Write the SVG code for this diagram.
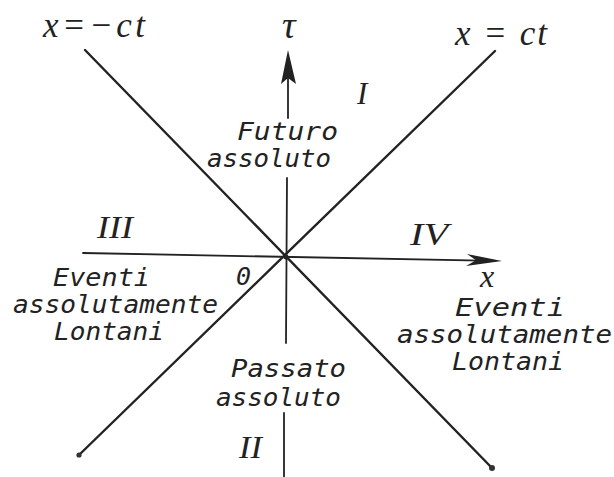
<svg xmlns="http://www.w3.org/2000/svg" width="614" height="477" viewBox="0 0 614 477">
<style>
.ln{stroke:#222;fill:none;stroke-linecap:round}
.diag{stroke-width:2.4}
.ax{stroke-width:1.8}
.lbl{font-family:"DejaVu Sans Mono","Liberation Mono",monospace;font-style:italic;font-size:25px;fill:#222}
.math{font-family:"Liberation Serif","DejaVu Serif",serif;font-style:italic;font-size:35px;fill:#222}
.rom{font-family:"Liberation Serif","DejaVu Serif",serif;font-style:italic;font-size:31px;fill:#222}
</style>
<rect width="614" height="477" fill="#fff"/>
<g id="connectors">
  <line class="ln diag" x1="85" y1="50" x2="492" y2="468"/>
  <line class="ln diag" x1="79" y1="455" x2="495" y2="51"/>
  <circle cx="79" cy="455" r="2.6" fill="#333"/>
  <circle cx="492" cy="468" r="3" fill="#333"/>
  <line class="ln ax" x1="83" y1="253" x2="495" y2="260.8"/>
  <polygon points="502,261 467,254 476,260.3 466,266" fill="#222"/>
  <line class="ln ax" x1="288" y1="58" x2="288" y2="118"/>
  <polygon points="288,50 281,84 288,78 296,84" fill="#222"/>
  <line class="ln ax" x1="287" y1="178" x2="286" y2="343"/>
  <line class="ln ax" x1="284" y1="413" x2="284" y2="477"/>
  <circle cx="286" cy="257" r="2.5" fill="#222"/>
</g>
<g id="label-xmct"><text class="math" x="43" y="37" textLength="102" lengthAdjust="spacing">x=−ct</text></g>
<g id="label-xct"><text class="math" x="455" y="45" textLength="92" lengthAdjust="spacing">x = ct</text></g>
<g id="label-tau"><text class="math" x="282" y="38" style="font-size:38px">τ</text></g>
<g id="label-x"><text class="math" x="480" y="287" style="font-size:32px">x</text></g>
<g id="label-origin"><text class="lbl" x="236" y="285">0</text></g>
<g id="region-I">
  <text class="rom" x="357" y="104">I</text>
  <text class="lbl" x="237" y="140" textLength="101" lengthAdjust="spacingAndGlyphs">Futuro</text>
  <text class="lbl" x="207" y="167" textLength="124" lengthAdjust="spacingAndGlyphs">assoluto</text>
</g>
<g id="region-II">
  <text class="lbl" x="231" y="377" textLength="115" lengthAdjust="spacingAndGlyphs">Passato</text>
  <text class="lbl" x="216" y="406" textLength="125" lengthAdjust="spacingAndGlyphs">assoluto</text>
  <text class="rom" x="239" y="458" textLength="23" lengthAdjust="spacingAndGlyphs">II</text>
</g>
<g id="region-III">
  <text class="rom" x="97" y="238" textLength="36" lengthAdjust="spacingAndGlyphs">III</text>
  <text class="lbl" x="53" y="286" textLength="97" lengthAdjust="spacingAndGlyphs">Eventi</text>
  <text class="lbl" x="13" y="313" textLength="205" lengthAdjust="spacingAndGlyphs">assolutamente</text>
  <text class="lbl" x="54" y="340" textLength="110" lengthAdjust="spacingAndGlyphs">Lontani</text>
</g>
<g id="region-IV">
  <text class="rom" x="410" y="245" textLength="38" lengthAdjust="spacingAndGlyphs">IV</text>
  <text class="lbl" x="455" y="316" textLength="110" lengthAdjust="spacingAndGlyphs">Eventi</text>
  <text class="lbl" x="397" y="343" textLength="215" lengthAdjust="spacingAndGlyphs">assolutamente</text>
  <text class="lbl" x="452" y="370" textLength="112" lengthAdjust="spacingAndGlyphs">Lontani</text>
</g>
</svg>
